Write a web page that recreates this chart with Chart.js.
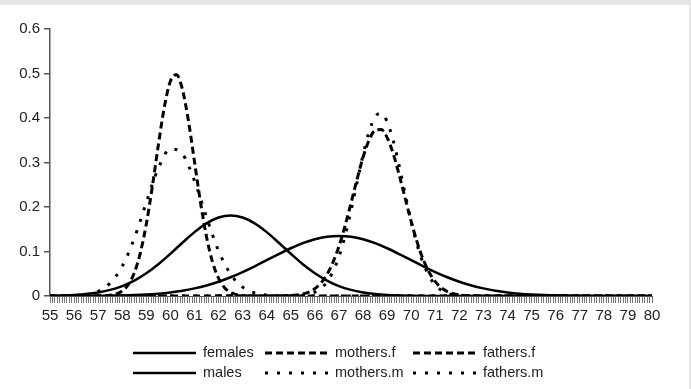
<!DOCTYPE html>
<html lang="en">
<head>
<meta charset="UTF-8">
<title>Height densities</title>
<script src="https://cdn.jsdelivr.net/npm/chart.js"></script>
<style>
  body { margin: 0; background: #fff; }
  #wrap { position: relative; width: 691px; height: 389px; overflow: hidden; }
  #chart { position: absolute; left: 0; top: 0; }
  #topbar { position: absolute; left: 0; top: 0; width: 691px; height: 5px; background: #e6e6e6; }
  #rightbar { position: absolute; right: 0; top: 0; width: 2px; height: 389px; background: #e6e6e6; }
</style>
</head>
<body>
<div id="wrap">
  <canvas id="chart" width="691" height="389"></canvas>
  <div id="topbar"></div>
  <div id="rightbar"></div>
</div>
<script>
// x positions (half-unit grid) shared by females, males, mothers.m
const xHalf = [55, 55.5, 56, 56.5, 57, 57.5, 58, 58.5, 59, 59.5,
               60, 60.5, 61, 61.5, 62, 62.5, 63, 63.5, 64, 64.5,
               65, 65.5, 66, 66.5, 67, 67.5, 68, 68.5, 69, 69.5,
               70, 70.5, 71, 71.5, 72, 72.5, 73, 73.5, 74, 74.5,
               75, 75.5, 76, 76.5, 77, 77.5, 78, 78.5, 79, 79.5, 80];

const females = [0.0005, 0.0012, 0.0023, 0.0044, 0.008, 0.0137, 0.0223, 0.0347, 0.0511, 0.0714,
                 0.0949, 0.1197, 0.1435, 0.1632, 0.1764, 0.181, 0.1764, 0.1632, 0.1435, 0.1197,
                 0.0949, 0.0714, 0.0511, 0.0347, 0.0223, 0.0137, 0.008, 0.0044, 0.0023, 0.0012,
                 0.0005, 0.0002, 0.0001, 0, 0, 0, 0, 0, 0, 0,
                 0, 0, 0, 0, 0, 0, 0, 0, 0, 0, 0];

const males = [0, 0.0001, 0.0001, 0.0002, 0.0004, 0.0008, 0.0013, 0.0021, 0.0034, 0.0053,
               0.0081, 0.0119, 0.0171, 0.0237, 0.0321, 0.0422, 0.0539, 0.0668, 0.0805, 0.0943,
               0.1073, 0.1187, 0.1275, 0.1331, 0.135, 0.1331, 0.1275, 0.1187, 0.1073, 0.0943,
               0.0805, 0.0668, 0.0539, 0.0422, 0.0321, 0.0237, 0.0171, 0.0119, 0.0081, 0.0053,
               0.0034, 0.0021, 0.0013, 0.0008, 0.0004, 0.0002, 0.0001, 0.0001, 0, 0, 0];

const mothersM = [0, 0.0001, 0.0008, 0.0033, 0.0106, 0.0291, 0.0669, 0.1294, 0.2104, 0.2875,
                  0.3304, 0.3191, 0.2591, 0.1769, 0.1015, 0.049, 0.0198, 0.0068, 0.0019, 0.0005,
                  0.0001, 0, 0, 0, 0, 0, 0, 0, 0, 0,
                  0, 0, 0, 0, 0, 0, 0, 0, 0, 0,
                  0, 0, 0, 0, 0, 0, 0, 0, 0, 0, 0];

// narrower curves, read on a quarter-unit grid
const mothersFx = [55, 57, 57.5, 57.75, 58, 58.25, 58.5, 58.75, 59, 59.25, 59.5, 59.75,
                   60, 60.25, 60.5, 60.75, 61, 61.25, 61.5, 61.75, 62, 62.25, 62.5, 62.75, 63, 63.5, 80];
const mothersF = [0, 0.0002, 0.0017, 0.0046, 0.0114, 0.0255, 0.0521, 0.0964, 0.1617, 0.246, 0.3396, 0.4251,
                  0.4827, 0.497, 0.4641, 0.3932, 0.302, 0.2105, 0.133, 0.0762, 0.0396, 0.0187, 0.008, 0.0031, 0.0011, 0.0001, 0];

const fathersFx = [55, 65, 65.25, 65.5, 65.75, 66, 66.25, 66.5, 66.75, 67, 67.25, 67.5, 67.75,
                   68, 68.25, 68.5, 68.75, 69, 69.25, 69.5, 69.75, 70, 70.25, 70.5, 70.75,
                   71, 71.25, 71.5, 71.75, 72, 72.25, 73, 80];
const fathersF = [0, 0.0009, 0.0022, 0.0045, 0.0089, 0.0165, 0.029, 0.0481, 0.0755, 0.1119, 0.1571, 0.2087, 0.2622,
                  0.3116, 0.3502, 0.3722, 0.3743, 0.356, 0.3204, 0.2726, 0.2195, 0.1671, 0.1204, 0.082, 0.0529,
                  0.0322, 0.0186, 0.0101, 0.0052, 0.0026, 0.0012, 0.0001, 0];

const fathersMx = [55, 65, 65.25, 65.5, 65.75, 66, 66.25, 66.5, 66.75, 67, 67.25, 67.5, 67.75,
                   68, 68.25, 68.5, 68.75, 69, 69.25, 69.5, 69.75, 70, 70.25, 70.5, 70.75,
                   71, 71.25, 71.5, 71.75, 72, 72.5, 80];
const fathersM = [0, 0.0003, 0.0008, 0.0018, 0.004, 0.0085, 0.0169, 0.0314, 0.0545, 0.0884, 0.1345, 0.1912, 0.2544,
                  0.3168, 0.3691, 0.4024, 0.4105, 0.3918, 0.35, 0.2925, 0.2288, 0.1674, 0.1146, 0.0734, 0.0441,
                  0.0247, 0.013, 0.0064, 0.0029, 0.0012, 0.0002, 0];

const legendRows = [['females', 'mothers.f', 'fathers.f'],
                    ['males', 'mothers.m', 'fathers.m']];

const FONT = '"Liberation Sans", Arial, sans-serif';
const SOLID = [], DASH = [7, 4], DOT = [3, 9];

const series = [
  { label: 'females',   xs: xHalf,     ys: females,  dash: SOLID, width: 2.5 },
  { label: 'males',     xs: xHalf,     ys: males,    dash: SOLID, width: 2.5 },
  { label: 'mothers.f', xs: mothersFx, ys: mothersF, dash: DASH,  width: 3 },
  { label: 'mothers.m', xs: xHalf,     ys: mothersM, dash: DOT,   width: 3 },
  { label: 'fathers.f', xs: fathersFx, ys: fathersF, dash: DASH,  width: 3 },
  { label: 'fathers.m', xs: fathersMx, ys: fathersM, dash: DOT,   width: 3 }
];

function toPoints(xs, ys) {
  return xs.map((x, i) => ({ x: x, y: ys[i] }));
}

// legend laid out as a 3 x 2 grid like the original
const gridLegend = {
  id: 'gridLegend',
  afterDraw(chart) {
    const c = chart.ctx;
    const colX = [133, 265, 413], rowY = [353, 373], sampleLen = 63;
    c.save();
    c.font = '14.5px ' + FONT;
    c.textBaseline = 'middle';
    c.fillStyle = '#222';
    legendRows.forEach((row, r) => {
      row.forEach((name, k) => {
        const ds = chart.data.datasets.find(d => d.label === name);
        const y = rowY[r];
        c.beginPath();
        c.setLineDash(ds.borderDash);
        c.lineWidth = ds.borderWidth;
        c.strokeStyle = '#000';
        c.lineCap = 'butt';
        c.moveTo(colX[k], y);
        c.lineTo(colX[k] + sampleLen, y);
        c.stroke();
        c.setLineDash([]);
        c.fillText(name, colX[k] + sampleLen + 7, y);
      });
    });
    c.restore();
  }
};

new Chart(document.getElementById('chart'), {
  type: 'line',
  data: {
    datasets: series.map(s => ({
      label: s.label,
      data: toPoints(s.xs, s.ys),
      borderColor: '#000',
      borderWidth: s.width,
      borderDash: s.dash,
      borderCapStyle: 'butt',
      pointRadius: 0,
      fill: false,
      cubicInterpolationMode: 'monotone'
    }))
  },
  options: {
    responsive: false,
    animation: false,
    layout: { padding: { left: 0, top: 29, right: 39, bottom: 67 } },
    plugins: { legend: { display: false }, tooltip: { enabled: false } },
    scales: {
      x: {
        type: 'linear',
        min: 55,
        max: 80,
        afterFit: s => { s.height = 26; },
        ticks: {
          stepSize: 0.1,
          autoSkip: false,
          maxRotation: 0,
          minRotation: 0,
          padding: 4,
          color: '#222',
          font: { size: 15, family: FONT },
          callback: v => Math.abs(v - Math.round(v)) < 1e-6 ? String(Math.round(v)) : ''
        },
        grid: { drawOnChartArea: false, drawTicks: true, tickLength: 7, color: '#777', lineWidth: 1 },
        border: { color: '#555', width: 1 }
      },
      y: {
        min: 0,
        max: 0.6,
        afterFit: s => { s.width = 50; },
        ticks: { stepSize: 0.1, padding: 4, color: '#222', font: { size: 15, family: FONT } },
        grid: { drawOnChartArea: false, drawTicks: true, tickLength: 6, color: '#555', lineWidth: 1.5 },
        border: { color: '#555', width: 1.5 }
      }
    }
  },
  plugins: [gridLegend]
});
</script>
</body>
</html>
